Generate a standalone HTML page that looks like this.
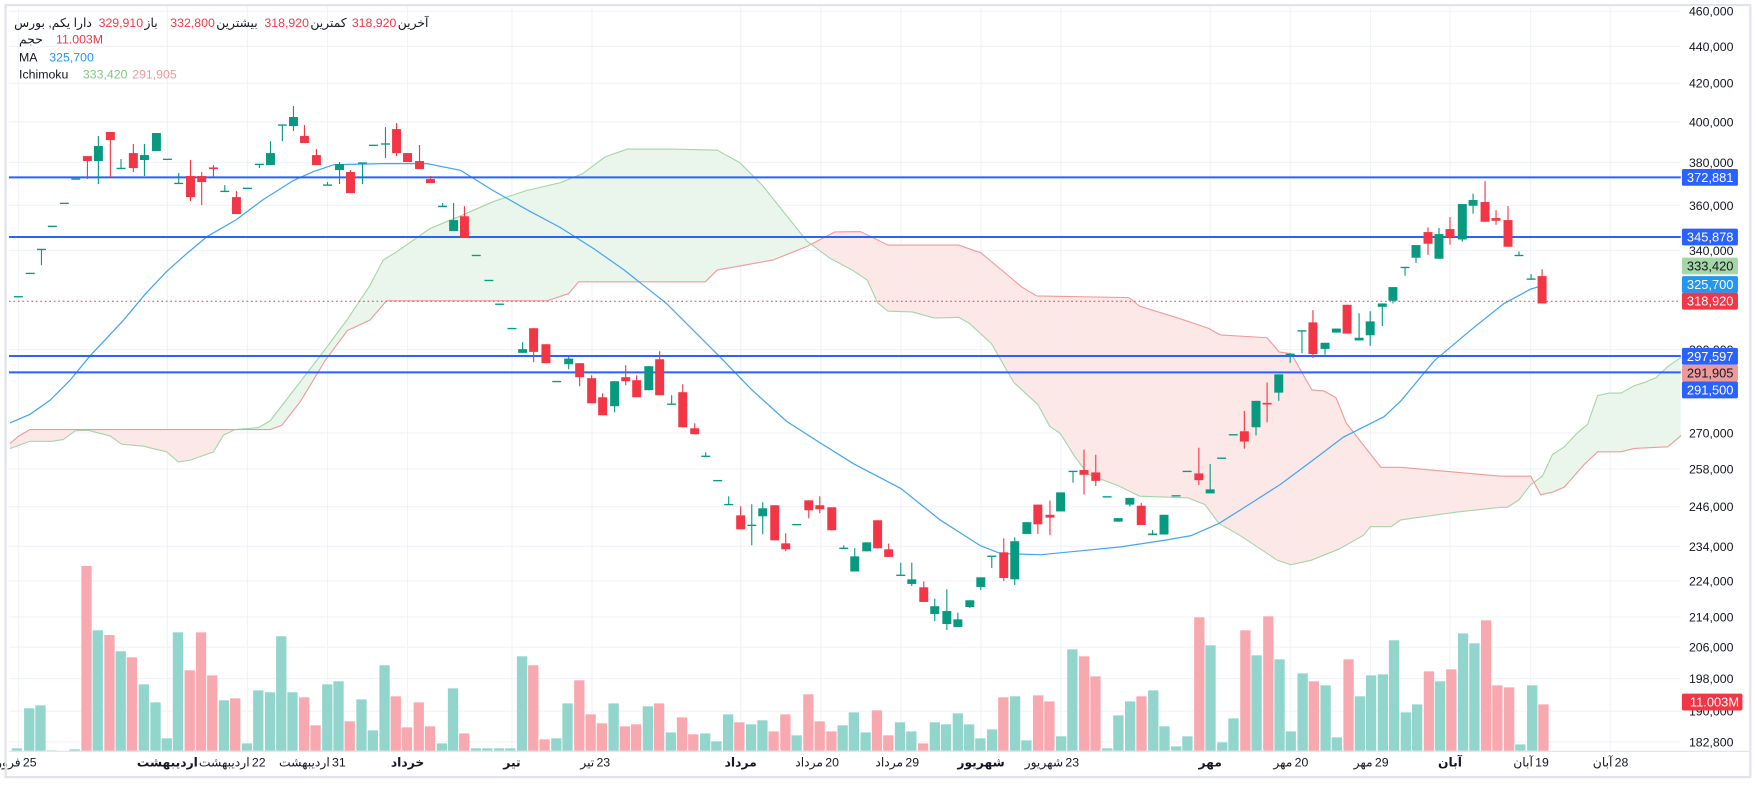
<!DOCTYPE html>
<html><head><meta charset="utf-8">
<style>
html,body{margin:0;padding:0;background:#fff;}
body{width:1757px;height:790px;overflow:hidden;position:relative;font-family:"Liberation Sans","Noto Sans CJK SC",sans-serif;}
svg{position:absolute;left:0;top:0;}
</style></head>
<body>
<svg id="s" width="1757" height="790" viewBox="0 0 1568 705" preserveAspectRatio="none" xmlns="http://www.w3.org/2000/svg" font-family="Liberation Sans, DejaVu Sans, sans-serif"></svg>
<script>
const S=document.getElementById('s');
let h='';
const Y=p=>10+706.5*Math.log(460000/p);
const PR=1500;
h+='<rect x="0" y="0" width="1568" height="705" fill="#fff"/>';
const ticks=[460000,440000,420000,400000,380000,360000,340000,300000,270000,258000,246000,234000,224000,214000,206000,198000,190000,182800];
ticks.forEach(t=>{h+=`<line x1="8" x2="${PR}" y1="${Y(t).toFixed(1)}" y2="${Y(t).toFixed(1)}" stroke="#f0f3fa" stroke-width="1"/>`;});
const dates=[[16.4,'فرور','25',0],[149.4,'اردیبهشت','',1],[220.8,'اردیبهشت','22',0],[292.3,'اردیبهشت','31',0],[363.7,'خرداد','',1],[456.9,'تیر','',1],[528.3,'تیر','23',0],[661,'مرداد','',1],[732.5,'مرداد','20',0],[804,'مرداد','29',0],[875.5,'شهریور','',1],[946.8,'شهریور','23',0],[1080,'مهر','',1],[1151.4,'مهر','20',0],[1223,'مهر','29',0],[1294,'آبان','',1],[1366,'آبان','19',0],[1437,'آبان','28',0]];
dates.forEach(d=>{h+=`<line x1="${d[0]}" x2="${d[0]}" y1="6" y2="670" stroke="#f0f3fa" stroke-width="1"/>`;});
const B=[[8.9,395.8],[16.4,389.3],[26.8,383.3],[241,383.3],[251.5,379.5],[267.9,358.6],[290,322],[310,295],[330,285.7],[345,268.4],[410.7,268.4],[488,268.5],[507.5,262],[516.4,251.5],[629.5,251.5],[640,241],[690,232],[720,220],[745,207],[767.8,206.6],[792.4,218.7],[855.5,218.7],[875.5,225.7],[912.4,256.5],[925.3,264.1],[1007.7,265.6],[1017,273.2],[1049.3,283.2],[1078.5,292.9],[1089.2,298.9],[1130.8,301.4],[1141.5,314.1],[1152.3,315.6],[1170.8,348],[1181.5,348.9],[1192.3,355],[1201.5,377.7],[1232.3,417],[1250.1,417],[1339.3,424.9],[1366,424.9],[1375,441.5],[1385.5,439.2],[1396,434.7],[1413.8,414.5],[1425.7,403.2],[1446.6,403.2],[1458.5,400.2],[1488.3,398.7],[1500.2,388.8]];
const A=[[8.9,400.3],[26.8,393.8],[46,393.8],[56.5,392.3],[67,384.5],[78.9,384],[98.2,389],[108.6,396.4],[128,398.2],[148.8,403.3],[159.2,412.2],[169.6,410.7],[190.5,403.3],[199.4,388.4],[209.8,383.3],[230.7,381.6],[241,375.6],[267.9,340.8],[290,312],[309.5,285.7],[330,255],[342,232],[354,224.7],[384,203.8],[410.7,192.8],[440,180],[470,170],[500,163],[520,155],[540,140],[560,133],[600,133],[640,134],[660,145],[680,165],[700,190],[720,215],[740,230],[760.5,241],[774,250],[783.2,270.2],[792.4,277.7],[814,278.4],[834,283.8],[855.5,283.2],[864.7,288.3],[884.7,306.5],[904.7,341.3],[926.2,361],[937,380.7],[946.2,386.8],[958.5,406.4],[970.8,423.1],[998.5,433.7],[1017,442.8],[1060,444.3],[1075.4,450.3],[1087.7,467],[1106.2,477.6],[1125,490],[1140,500],[1152,504],[1170,500],[1195,490],[1216.9,477.6],[1223,470],[1241.5,470],[1250,464],[1300,457],[1339.3,452.7],[1345.3,452.7],[1355.7,446],[1366,432.5],[1376.5,424.9],[1385.5,405.6],[1396,398.9],[1406.3,387.6],[1416.8,378.6],[1425.7,353],[1436.2,350.8],[1446.6,350.8],[1458.5,344.1],[1467.4,341.4],[1477.9,337],[1488.3,327.1],[1500.2,319]];
function interp(P,x){for(let i=0;i<P.length-1;i++){if(x>=P[i][0]&&x<=P[i+1][0]){const t=(x-P[i][0])/(P[i+1][0]-P[i][0]);return P[i][1]+t*(P[i+1][1]-P[i][1]);}}return x<P[0][0]?P[0][1]:P[P.length-1][1];}
let gTop=[],gBot=[],rTop=[],rBot=[];
for(let x=8.9;x<=1500.2;x+=1){const a=interp(A,x),b=interp(B,x),m=Math.min(a,b);gTop.push([x,m]);gBot.push([x,b]);rTop.push([x,m]);rBot.push([x,a]);}
const poly=(T,Bt)=>T.map(p=>p[0].toFixed(1)+','+p[1].toFixed(1)).concat(Bt.slice().reverse().map(p=>p[0].toFixed(1)+','+p[1].toFixed(1))).join(' ');
h+=`<polygon points="${poly(gTop,gBot)}" fill="#e8f5e9" fill-opacity="0.9"/>`;
h+=`<polygon points="${poly(rTop,rBot)}" fill="#fde4e4" fill-opacity="0.85"/>`;
const pl=P=>P.map(p=>p[0]+','+p[1]).join(' ');
h+=`<polyline points="${pl(A)}" fill="none" stroke="#a5d6a7" stroke-width="1"/>`;
h+=`<polyline points="${pl(B)}" fill="none" stroke="#ef9a9a" stroke-width="1"/>`;
const V1=[[30,444,'g'],[52,324,'g'],[72,315,'g'],[92,450,'g'],[112,453,'g'],[133,447,'g'],[154,-100,'r'],[174,90,'g'],[195,104,'r'],[215,153,'g'],[235,171,'r'],[256,252,'g'],[277,306,'g'],[297,414,'g'],[317,96,'g'],[338,210,'r'],[358,96,'r'],[378,225,'r'],[399,300,'g'],[419,294,'r'],[440,429,'g'],[460,270,'g'],[481,276,'g'],[501,108,'g'],[521,276,'g'],[542,291,'r'],[562,375,'r'],[583,252,'g'],[603,243,'g'],[623,363,'r'],[644,297,'g'],[664,390,'g'],[685,195,'g'],[705,288,'r'],[725,381,'r'],[746,306,'r'],[766,378,'r'],[787,429,'g'],[807,264,'g'],[827,399,'r'],[848,444,'g'],[868,444,'g'],[889,444,'g'],[909,444,'g'],[930,168,'g'],[950,195,'r'],[970,417,'r'],[991,414,'g'],[1011,309,'g'],[1032,240,'r'],[1052,342,'r'],[1072,369,'r'],[1093,309,'g'],[1113,378,'r'],[1133,372,'r'],[1154,318,'g'],[1174,309,'r'],[1195,396,'g'],[1215,351,'r'],[1235,402,'r'],[1256,399,'g'],[1276,423,'g'],[1297,342,'g'],[1317,366,'r'],[1338,372,'g'],[1358,360,'g'],[1378,393,'r'],[1399,342,'r'],[1419,405,'g'],[1440,282,'r'],[1460,363,'r'],[1481,393,'r'],[1501,375,'g'],[1521,336,'g'],[1542,396,'g'],[1562,330,'r']];
const V2=[[14,405,'r'],[35,366,'g'],[55,393,'g'],[76,429,'r'],[97,366,'g'],[117,372,'g'],[138,339,'g'],[158,372,'g'],[178,414,'g'],[199,387,'g'],[219,291,'r'],[240,288,'g'],[260,420,'g'],[281,285,'r'],[301,303,'r'],[322,408,'g'],[342,147,'g'],[363,168,'r'],[383,228,'r'],[404,444,'g'],[424,345,'g'],[445,303,'g'],[465,288,'r'],[486,270,'g'],[506,378,'g'],[527,438,'g'],[547,408,'g'],[568,51,'r'],[588,135,'g'],[609,426,'g'],[629,354,'g'],[650,90,'r'],[670,165,'g'],[691,48,'r'],[711,177,'g'],[731,393,'g'],[752,219,'g'],[772,243,'r'],[793,255,'g'],[813,411,'g'],[834,177,'r'],[854,288,'g'],[874,225,'g'],[895,222,'g'],[915,120,'g'],[936,336,'g'],[956,312,'g'],[977,213,'r'],[997,243,'g'],[1017,207,'r'],[1038,99,'g'],[1058,129,'g'],[1079,60,'r'],[1099,255,'r'],[1120,261,'r'],[1140,432,'g'],[1161,255,'g'],[1181,312,'r']];
function vol(x,zy,c){let top=zy<0?505:535.7+zy/3.36;h+=`<rect x="${(x-4.6).toFixed(1)}" y="${top.toFixed(1)}" width="9.2" height="${(670-top).toFixed(1)}" fill="${c=='g'?'#92d5cc':'#f8a9b0'}"/>`;}
V1.forEach(v=>vol(v[0]*0.501,v[1],v[2]));
V2.forEach(v=>vol(785.7+v[0]*0.501,v[1],v[2]));
const MA=[[8.9,377.4],[26.8,369.7],[44.6,357.2],[62.5,339.3],[80,318],[110,286],[130,262],[149,242],[167,226],[185,211],[211,196],[235,178],[262,161],[280,153],[298,147],[342,146],[381,146],[411,152],[440,170],[470,187],[500,203],[530,222],[557,241],[595,271],[643,319],[670,347],[702,376],[730,394],[762,414],[804,436],[839,464],[875,487],[893,494],[929,495],[960,492],[1000,488],[1040,482],[1063,478],[1088,467],[1115,450],[1143,432],[1170,412],[1199,390],[1235,372],[1250,358],[1280,322],[1312,295],[1342,271],[1366,258],[1376,255]];
h+=`<polyline points="${pl(MA)}" fill="none" stroke="#42a5f5" stroke-width="1.1"/>`;
[372881,345878,297597,291500].forEach(p=>{h+=`<line x1="8" x2="${PR}" y1="${Y(p).toFixed(1)}" y2="${Y(p).toFixed(1)}" stroke="#2962ff" stroke-width="1.8"/>`;});
h+=`<line x1="8" x2="${PR}" y1="${Y(318920).toFixed(1)}" y2="${Y(318920).toFixed(1)}" stroke="#f23645" stroke-width="0.9" stroke-dasharray="1.5,2.5"/>`;
const C=[[16.4,264.8,264.8,264.8,264.8,'g'],[27,244,244,244,244,'g'],[37,222.6,222.6,222.6,236.6,'g'],[46.7,202,202,202,202,'g'],[57.4,181.5,181.5,181.5,181.5,'g'],[67.6,159.8,159.8,159.8,159.8,'g'],[78,139.3,143.7,139.3,159.8,'r'],[87.8,130.3,143.7,121.4,164.3,'g'],[98.5,117.8,125,117.8,158.3,'r'],[108,150.3,150.3,141.9,150.3,'g'],[119,136.6,150,128.5,153.5,'r'],[128.9,138.4,142.8,128.5,157.1,'g'],[139.6,118.7,134.8,118.7,134.8,'g'],[149.4,142.2,142.2,142.2,142.2,'g'],[159.5,163.7,163.7,154.4,163.7,'g'],[170,157.1,175.9,142.8,179.4,'r'],[180,157.1,162.5,153.5,183,'r'],[190.5,149.4,150.9,147.3,158,'r'],[200.6,170.8,170.8,165.2,170.8,'g'],[211,175.9,191,170.5,191,'r'],[220.8,168.1,168.1,168.1,168.1,'g'],[231.5,146.7,146.7,146.7,150,'g'],[241.4,136.6,147.3,125.9,147.3,'g'],[252,111.6,111.6,111.6,125.9,'g'],[261.9,104.4,112.5,94.6,116.9,'g'],[271.7,121.4,127.6,111.6,127.6,'r'],[282.4,138.4,147.3,133,147.3,'r'],[292.3,165.2,165.2,162.5,165.2,'g'],[303,146.4,151.8,144.6,164.3,'g'],[312.8,153.5,172.3,151.8,172.3,'r'],[323.5,145.5,145.5,145.5,164.3,'g'],[333.3,129.7,129.7,129.7,129.7,'g'],[344,128.5,128.5,113.4,141,'g'],[353.9,115.2,136.6,109.8,139.3,'r'],[363.7,136.6,144.6,136.6,144.6,'r'],[374.4,143.7,150.9,129.4,150.9,'r'],[384.2,159.8,163.4,157.1,163.4,'r'],[395,184.2,184.2,181.2,184.2,'g'],[404.8,196.4,206.2,181.2,206.2,'g'],[414.5,193,212,184,212,'r'],[425,228,228,228,228,'g'],[436.3,250.3,250.3,250.3,250.3,'g'],[445.9,271.5,271.5,271.5,271.5,'g'],[456.9,293.2,293.2,293.2,293.2,'g'],[466.4,311.6,314.9,305.4,314.9,'g'],[476.2,292.9,314,292.9,323.2,'r'],[487.2,307.2,324.1,307.2,324.1,'r'],[496.8,340.5,340.5,340.5,340.5,'g'],[507.5,320,325,318.5,329.5,'g'],[517.3,324.1,336.6,324.1,344.7,'r'],[528,337.5,359.9,334.9,359.9,'r'],[537.8,354.5,370.6,350.9,370.6,'r'],[548.5,340.2,362.5,340.2,367.9,'g'],[558.4,336.6,340.2,325.9,343.8,'r'],[568.2,339.3,354.5,334.9,354.5,'r'],[579,326.8,348.2,326.8,348.2,'g'],[588.7,320.6,352.7,313.4,352.7,'r'],[599.4,360.7,360.7,352.7,360.7,'g'],[609.3,350,381.3,342.9,381.3,'r'],[620,382.2,387.5,377.7,387.5,'r'],[629.8,407.2,407.2,403.6,407.2,'g'],[640.5,428.9,428.9,428.9,428.9,'g'],[650.3,450.3,450.3,442.9,450.3,'g'],[661,459.9,472.4,451.8,472.4,'r'],[670.9,468.8,468.8,450,486.6,'g'],[680.7,453.6,460.7,448.2,476.8,'g'],[691.4,450.9,482.2,450.9,482.2,'r'],[701.2,484.9,490.2,475.9,492,'r'],[711,468.2,468.2,468.2,468.2,'g'],[721.8,446.5,455.4,446.5,462.5,'r'],[731.6,450.9,454.5,442.9,458,'r'],[742.3,452.7,473.2,452.7,473.2,'r'],[753,489.3,489.3,486.6,489.3,'g'],[762.8,496.5,510,489.3,510,'g'],[773.5,484,492,484,492,'g'],[783.2,464.3,489.3,464.3,489.3,'r'],[793.1,490.2,497,485.1,497,'r'],[803.9,513.4,513.4,502.1,513.4,'g'],[813.7,517,521.1,502.1,523,'g'],[824.4,524.1,537.2,518.8,537.2,'r'],[834.2,541,548,534.2,554.2,'g'],[845,545.3,556.9,525.9,562.2,'g'],[854.8,552.7,559.5,546.7,559.5,'g'],[865.5,535.7,541.7,535.7,542.6,'g'],[875.3,515.2,523.8,515.2,526.5,'g'],[885.1,496.4,496.4,496.4,506.9,'g'],[895.8,492.9,515.8,480.4,518.5,'r'],[905.6,483,517,479.5,522,'g'],[916.4,466,476.5,466,476.5,'g'],[926.2,450.3,467.9,450.3,476.4,'r'],[937,459.4,461.9,446.7,477.6,'r'],[946.5,439.4,456.4,439.4,456.4,'g'],[957.6,420.7,420.7,420.7,430.7,'g'],[967.4,419.5,423.7,401.3,441.3,'r'],[977.9,421.6,429.1,405.8,433.7,'r'],[988,443.4,443.4,443.4,443.4,'g'],[997.9,462.4,465.5,462.4,465.5,'g'],[1008.3,444.3,450.3,444.3,451.9,'g'],[1018.5,451.3,468.5,448.8,468.5,'r'],[1028.6,476.1,477.6,473.1,477.6,'g'],[1038.8,459.4,477,459.4,477,'g'],[1049.6,442.5,442.5,442.5,442.5,'g'],[1059.4,420.7,420.7,420.7,420.7,'g'],[1069.9,422.5,428.5,399.5,432.8,'r'],[1080,436.7,440.3,414,440.3,'g'],[1090.2,408.9,408.9,408.9,408.9,'g'],[1100.6,388,388,388,388,'g'],[1110.5,384.9,394,366.8,400.4,'r'],[1120.9,357.7,381.3,357.7,388.6,'g'],[1130.8,359.5,361,341.3,376.8,'r'],[1141.2,334.1,350.4,334.1,357.7,'g'],[1151.4,316.2,316.2,316.2,323.8,'g'],[1161.9,295.3,295.3,295.3,315.3,'g'],[1171.7,287.7,315.9,276.8,319.5,'r'],[1182.5,305.9,311.4,305.9,316.5,'g'],[1192.6,293.2,296.8,293.2,296.8,'g'],[1202.2,272,297.7,272,297.7,'r'],[1212.9,301.4,303.8,279.6,303.8,'g'],[1222.8,286.8,299.2,277.7,308.6,'g'],[1233.6,270.8,273.8,270.8,291,'g'],[1243.1,256.2,268.4,256.2,270.8,'g'],[1253.9,238.7,238.7,238.7,246.1,'g'],[1263.7,218.7,230,218.7,234.5,'g'],[1274.4,207.1,217.5,203,227.4,'r'],[1284.2,208.9,230.9,203.5,230.9,'g'],[1294,204.4,211.6,193.7,218.4,'r'],[1305,182.1,213.7,182.1,215.7,'g'],[1314.6,178.5,183.6,172.9,190.7,'g'],[1325.3,180.3,197.9,161.6,197.9,'r'],[1335.1,194.6,197,187.5,200.6,'r'],[1345.8,196.4,220.2,183.9,220.2,'r'],[1355.6,228,228,224.4,228,'g'],[1366.4,249.1,249.1,244.6,249.1,'g'],[1376.2,246.4,270.8,240.2,270.8,'r']];
C.forEach(c=>{const col=c[5]=='g'?'#089981':'#f23645';const [x,t,b,hi,lo]=c;
 if(lo-hi>0.5)h+=`<line x1="${x}" x2="${x}" y1="${hi}" y2="${lo}" stroke="${col}" stroke-width="1"/>`;
 let bh=Math.max(b-t,1.2),bt=(b-t<1.2)?t-0.6:t;
 h+=`<rect x="${(x-4).toFixed(1)}" y="${bt.toFixed(1)}" width="8" height="${bh.toFixed(1)}" fill="${col}"/>`;});
h+=`<rect x="${PR+1}" y="6" width="59" height="664" fill="#fff"/>`;
h+=`<line x1="8" x2="1561" y1="670.5" y2="670.5" stroke="#e0e3eb" stroke-width="1"/>`;
ticks.forEach(t=>{h+=`<text x="1547" y="${(Y(t)+4).toFixed(1)}" font-size="11" fill="#131722" text-anchor="end">${t.toLocaleString('en-US')}</text>`;});
function lab(y,txt,bg,fg){h+=`<rect x="1501" y="${(y-7.5).toFixed(1)}" width="50" height="15" rx="1.5" fill="${bg}"/><text x="1547" y="${(y+4).toFixed(1)}" font-size="11.5" fill="${fg}" text-anchor="end">${txt}</text>`;}
lab(Y(372881),'372,881','#2962ff','#fff');
lab(Y(345878),'345,878','#2962ff','#fff');
lab(Y(333420),'333,420','#a5d6a7','#131722');
lab(Y(325700),'325,700','#2196f3','#fff');
lab(Y(318920),'318,920','#f23645','#fff');
lab(318,'297,597','#2962ff','#fff');
lab(333,'291,905','#ef9a9a','#131722');
lab(348,'291,500','#2962ff','#fff');
h+=`<rect x="1501" y="619" width="54" height="15" rx="1.5" fill="#f23645"/><text x="1552" y="630.5" font-size="11.5" fill="#fff" text-anchor="end">11.003M</text>`;
dates.forEach(d=>{
 if(d[3]){h+=`<text x="${d[0]}" y="684" font-size="11" font-weight="bold" fill="#131722" text-anchor="middle" font-family="DejaVu Sans, sans-serif">${d[1]}</text>`;}
 else{h+=`<text x="${d[0]+2}" y="684" font-size="11" fill="#131722" text-anchor="end" font-family="DejaVu Sans, sans-serif">${d[1]}</text><text x="${d[0]+4}" y="684" font-size="11" fill="#131722">${d[2]}</text>`;}
});
h+=`<rect x="5" y="4.5" width="1557" height="689" fill="none" stroke="#e0e3eb" stroke-width="2"/>`;
h+=`<rect x="0" y="0" width="1568" height="3.5" fill="#fff"/>`;
const L=(x,y,t,c,a)=>{h+=`<text x="${x}" y="${y}" font-size="11" fill="${c}" ${a?'text-anchor="end"':''} font-family="Liberation Sans, DejaVu Sans, sans-serif">${t}</text>`;};
L(82,24,'دارا یکم, بورس','#131722',1);
L(88,24,'329,910','#f23645');L(129,24,'باز','#131722');
L(152,24,'332,800','#f23645');L(193,24,'بیشترین','#131722');
L(236,24,'318,920','#f23645');L(277,24,'کمترین','#131722');
L(314,24,'318,920','#f23645');L(355,24,'آخرین','#131722');
L(17,39,'حجم','#131722');L(50,39,'11.003M','#f23645');
L(17,55,'MA','#131722');L(44,55,'325,700','#2196f3');
L(17,70,'Ichimoku','#131722');L(74,70,'333,420','#81c784');L(118,70,'291,905','#ef9a9a');
S.innerHTML=h;
</script>
</body></html>
